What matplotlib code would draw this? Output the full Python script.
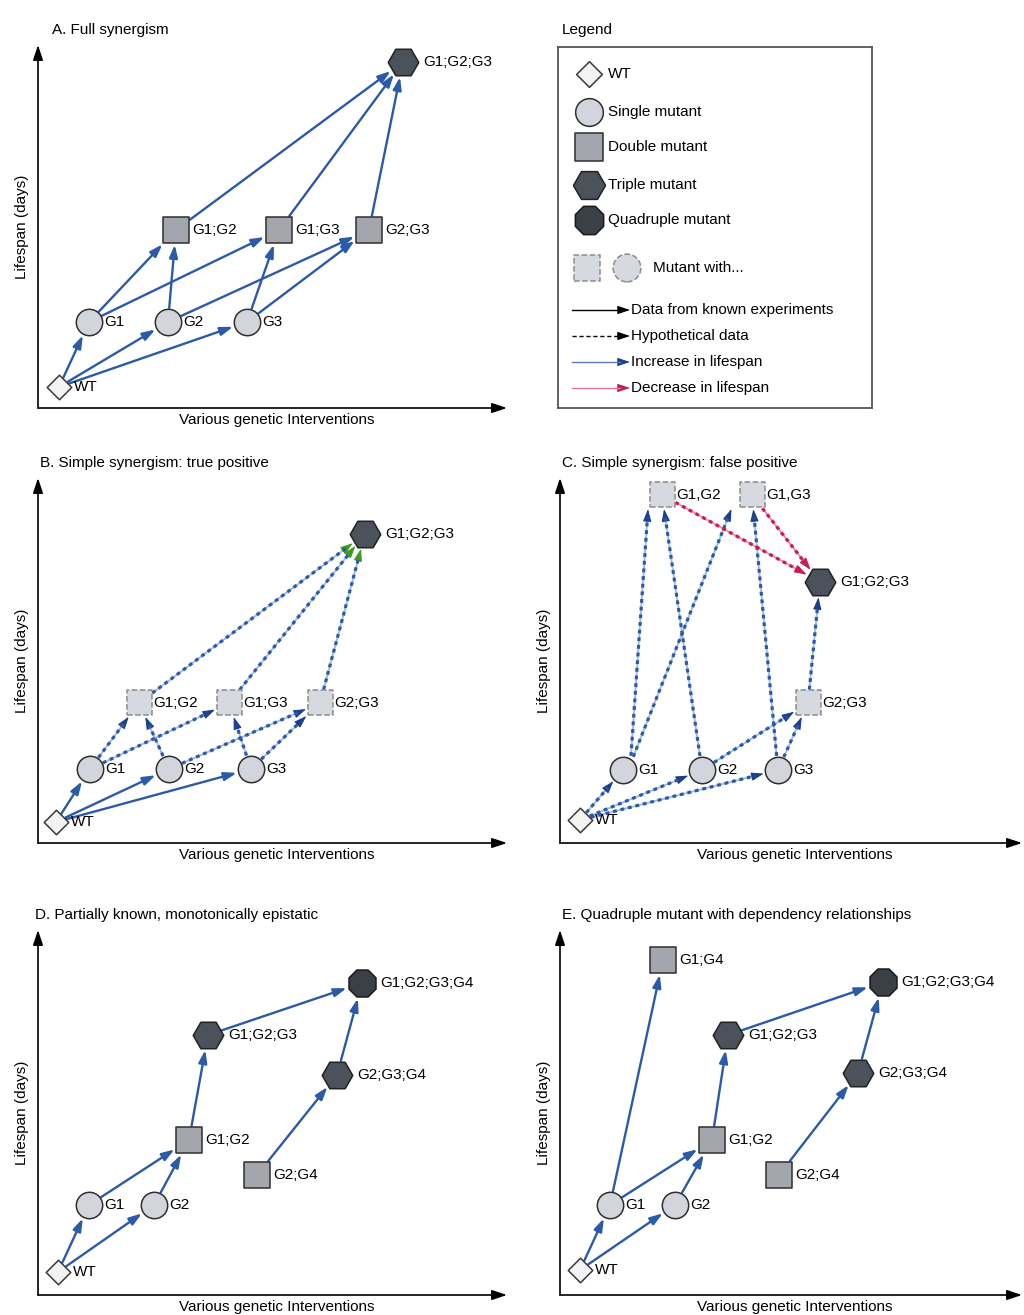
import matplotlib.pyplot as plt
import numpy as np
from matplotlib.patches import FancyArrowPatch

plt.rcParams['font.family'] = ['Liberation Sans', 'DejaVu Sans']
plt.rcParams['font.size'] = 11

# ---- data: node labels, kinds, interventions (x) and lifespan (y) per panel ----
a_labels = ['WT', 'G1', 'G2', 'G3', 'G1;G2', 'G1;G3', 'G2;G3', 'G1;G2;G3']
a_kinds = ['wt', 'single', 'single', 'single', 'double', 'double', 'double', 'triple']
a_x = [21, 51, 130, 209, 138, 241, 331, 365]
a_y = [21, 86, 86, 86, 178, 178, 178, 346]
a_edges = [(0, 1, 'known'), (0, 2, 'known'), (0, 3, 'known'),
           (1, 4, 'known'), (1, 5, 'known'), (2, 4, 'known'), (2, 6, 'known'),
           (3, 5, 'known'), (3, 6, 'known'),
           (4, 7, 'known'), (5, 7, 'known'), (6, 7, 'known')]

b_labels = ['WT', 'G1', 'G2', 'G3', 'G1;G2', 'G1;G3', 'G2;G3', 'G1;G2;G3']
b_kinds = ['wt', 'single', 'single', 'single', 'hyp', 'hyp', 'hyp', 'triple']
b_x = [18, 52, 131, 213, 101, 191, 282, 327]
b_y = [21, 74, 74, 74, 140, 140, 140, 309]
b_edges = [(0, 1, 'known'), (0, 2, 'known'), (0, 3, 'known'),
           (1, 4, 'hypo'), (1, 5, 'hypo'), (2, 4, 'hypo'), (2, 6, 'hypo'),
           (3, 5, 'hypo'), (3, 6, 'hypo'),
           (4, 7, 'hypo_green'), (5, 7, 'hypo_green'), (6, 7, 'hypo_green')]

c_labels = ['WT', 'G1', 'G2', 'G3', 'G1,G2', 'G1,G3', 'G2;G3', 'G1;G2;G3']
c_kinds = ['wt', 'single', 'single', 'single', 'hyp', 'hyp', 'hyp', 'triple']
c_x = [20, 63, 142, 218, 102, 192, 248, 260]
c_y = [23, 73, 73, 73, 348, 348, 140, 261]
c_edges = [(0, 1, 'hypo'), (0, 2, 'hypo'), (0, 3, 'hypo'),
           (1, 4, 'hypo'), (2, 4, 'hypo'), (1, 5, 'hypo'), (3, 5, 'hypo'),
           (2, 6, 'hypo'), (3, 6, 'hypo'),
           (4, 7, 'hypo_down'), (5, 7, 'hypo_down'), (6, 7, 'hypo')]

d_labels = ['WT', 'G1', 'G2', 'G1;G2', 'G2;G4', 'G1;G2;G3', 'G2;G3;G4', 'G1;G2;G3;G4']
d_kinds = ['wt', 'single', 'single', 'double', 'double', 'triple', 'triple', 'quad']
d_x = [20, 51, 116, 151, 219, 170, 299, 324]
d_y = [23, 90, 90, 155, 120, 260, 220, 312]
d_edges = [(0, 1, 'known'), (0, 2, 'known'), (1, 3, 'known'), (2, 3, 'known'),
           (3, 5, 'known'), (5, 7, 'known'), (4, 6, 'known'), (6, 7, 'known')]

e_labels = ['WT', 'G1', 'G2', 'G1;G2', 'G2;G4', 'G1;G2;G3', 'G2;G3;G4', 'G1;G2;G3;G4', 'G1;G4']
e_kinds = ['wt', 'single', 'single', 'double', 'double', 'triple', 'triple', 'quad', 'double']
e_x = [20, 50, 115, 152, 219, 168, 298, 323, 103]
e_y = [25, 90, 90, 155, 120, 260, 222, 313, 335]
e_edges = [(0, 1, 'known'), (0, 2, 'known'), (1, 3, 'known'), (2, 3, 'known'),
           (3, 5, 'known'), (5, 7, 'known'), (4, 6, 'known'), (6, 7, 'known'),
           (1, 8, 'known')]

legend_nodes = ['WT', 'Single mutant', 'Double mutant', 'Triple mutant', 'Quadruple mutant']
legend_lines = ['Data from known experiments', 'Hypothetical data',
                'Increase in lifespan', 'Decrease in lifespan']

# ---- styles ----
FW, FH = 1024, 1315
PX = 100 / 72
NODE = {
    'wt':     dict(marker='D', m=12.5, fc='#f3f3f3', ec='#3a3a3a', ls='-'),
    'single': dict(marker='o', m=19, fc='#d2d6dc', ec='#2e2e2e', ls='-'),
    'double': dict(marker='s', m=19, fc='#a3a7ad', ec='#2e2e2e', ls='-'),
    'triple': dict(marker='H', m=22, fc='#4c525b', ec='#222222', ls='-'),
    'quad':   dict(marker='8', m=21, fc='#3b3f46', ec='#1a1a1a', ls='-'),
    'hyp':    dict(marker='s', m=18, fc='#d6dae0', ec='#8c8c8c', ls='--'),
}
LABEL_PAD = {'wt': 6, 'single': 2, 'double': 3, 'triple': 5, 'quad': 4, 'hyp': 2}
BLUE = '#2b5aa8'
DARKBLUE = '#1b3f8e'
LIGHTBLUE = '#9db8e0'
RED = '#c41e52'
LIGHTRED = '#f08aa8'
GREEN = '#3c9a1e'
HEAD = '-|>,head_length=0.75,head_width=0.25'
AXHEAD = '-|>,head_length=0.9,head_width=0.3'

fig = plt.figure(figsize=(FW / 100, FH / 100), dpi=100)


def make_axes(left, base, w, h):
    ax = fig.add_axes([left / FW, 1 - base / FH, w / FW, h / FH])
    ax.set_xlim(0, w)
    ax.set_ylim(0, h)
    ax.axis('off')
    return ax


def half_size(kind, u):
    st = NODE[kind]
    half = st['m'] * PX / 2
    if st['marker'] == 's':
        return half / max(abs(u[0]), abs(u[1]))
    if st['marker'] == 'D':
        return half * np.sqrt(2) / (abs(u[0]) + abs(u[1]))
    if st['marker'] == 'H':
        return half * 0.9
    return half


def arrow(ax, a, b, color, lw, style=HEAD, ls='-'):
    ax.add_patch(FancyArrowPatch(a, b, arrowstyle=style, mutation_scale=10, color=color,
                                 lw=lw, linestyle=ls, shrinkA=0, shrinkB=0, clip_on=False))


def draw_nodes(ax, kinds, xs, ys, labels=None, scale=1.0):
    for k in NODE:
        idx = [i for i, kk in enumerate(kinds) if kk == k]
        if not idx:
            continue
        st = NODE[k]
        ax.scatter([xs[i] for i in idx], [ys[i] for i in idx], marker=st['marker'],
                   s=(st['m'] * scale) ** 2, facecolor=st['fc'], edgecolor=st['ec'],
                   linewidths=1.1, linestyle=st['ls'], zorder=3, clip_on=False)
        if labels is not None:
            for i in idx:
                ax.text(xs[i] + st['m'] * PX / 2 + LABEL_PAD[k], ys[i], labels[i],
                        ha='left', va='center', zorder=4)


def draw_panel(ax, w, h, title, title_dx, labels, kinds, xs, ys, edges, ports=None):
    ports = ports or {}
    arrow(ax, (0, 0), (0, h), 'black', 1.2, AXHEAD)
    arrow(ax, (0, 0), (w, 0), 'black', 1.2, AXHEAD)
    ax.text(-16, h / 2, 'Lifespan (days)', rotation=90, ha='center', va='center')
    ax.text(w / 2 + 4, -12, 'Various genetic Interventions', ha='center', va='center')
    ax.text(title_dx, h + 15, title, ha='left', va='center')

    for i, j, etype in edges:
        p0 = np.array([xs[i], ys[i]], float)
        p1 = np.array([xs[j], ys[j]], float)
        d0, d1 = ports.get((i, j), (0, 0))
        q0 = p0 + [d0, 0]
        q1 = p1 + [d1, 0]
        u = (q1 - q0) / np.linalg.norm(q1 - q0)
        a = q0 + u * (half_size(kinds[i], u) + 1)
        b = q1 - u * (half_size(kinds[j], u) + 1.5)
        if etype == 'known':
            arrow(ax, a, b, BLUE, 1.7)
            continue
        line, light, head = BLUE, LIGHTBLUE, DARKBLUE
        if etype == 'hypo_green':
            head = GREEN
        elif etype == 'hypo_down':
            line, light, head = RED, LIGHTRED, RED
        base = b - u * 9
        ax.plot([a[0], base[0]], [a[1], base[1]], color=light, lw=1.3, zorder=1,
                solid_capstyle='butt')
        ax.plot([a[0], base[0]], [a[1], base[1]], color=line, lw=2.3, zorder=2,
                dashes=(1.2, 1.2), dash_capstyle='butt')
        arrow(ax, b - u * 10, b, head, 0.8)

    draw_nodes(ax, kinds, xs, ys, labels)


ax_a = make_axes(38, 408, 469, 363)
draw_panel(ax_a, 469, 363, 'A. Full synergism', 14, a_labels, a_kinds, a_x, a_y, a_edges)

ax_b = make_axes(38, 843, 469, 365)
draw_panel(ax_b, 469, 365, 'B. Simple synergism: true positive', 2,
           b_labels, b_kinds, b_x, b_y, b_edges)

ax_c = make_axes(560, 843, 462, 365)
draw_panel(ax_c, 462, 365, 'C. Simple synergism: false positive', 2,
           c_labels, c_kinds, c_x, c_y, c_edges,
           ports={(1, 4): (7, -13), (1, 5): (5, -15)})

ax_d = make_axes(38, 1295, 469, 365)
draw_panel(ax_d, 469, 365, 'D. Partially known, monotonically epistatic', -3,
           d_labels, d_kinds, d_x, d_y, d_edges)

ax_e = make_axes(560, 1295, 462, 365)
draw_panel(ax_e, 462, 365, 'E. Quadruple mutant with dependency relationships', 2,
           e_labels, e_kinds, e_x, e_y, e_edges)

# ---- legend box ----
ax_l = fig.add_axes([558 / FW, 1 - 408 / FH, 314 / FW, 361 / FH])
ax_l.set_xlim(0, 314)
ax_l.set_ylim(0, 361)
ax_l.set_xticks([])
ax_l.set_yticks([])
for sp in ax_l.spines.values():
    sp.set_color('#555555')
    sp.set_linewidth(1.3)
ax_l.text(4, 378, 'Legend', ha='left', va='center')

leg_y = [334, 296, 261, 223, 188]
draw_nodes(ax_l, ['wt', 'single', 'double', 'triple', 'quad'], [31] * 5, leg_y, scale=1.05)
for name, y in zip(legend_nodes, leg_y):
    ax_l.text(50, y, name, ha='left', va='center')

draw_nodes(ax_l, ['hyp'], [29], [140], scale=1.05)
ax_l.scatter([69], [140], marker='o', s=(19 * 1.05) ** 2, facecolor=NODE['hyp']['fc'],
             edgecolor=NODE['hyp']['ec'], linewidths=1.1, linestyle='--', zorder=3)
ax_l.text(95, 140, 'Mutant with...', ha='left', va='center')

line_y = [98, 72, 46, 20]
line_col = ['black', 'black', '#5a78c0', '#e8749a']
head_col = ['black', 'black', DARKBLUE, RED]
line_ls = ['-', (0, (3, 2)), '-', '-']
for name, y, lc, hc, ls in zip(legend_lines, line_y, line_col, head_col, line_ls):
    ax_l.plot([14, 62], [y, y], color=lc, lw=1.0, linestyle=ls)
    arrow(ax_l, (61, y), (72, y), hc, 0.8)
    ax_l.text(73, y, name, ha='left', va='center')

fig.savefig('out.png', dpi=100)
